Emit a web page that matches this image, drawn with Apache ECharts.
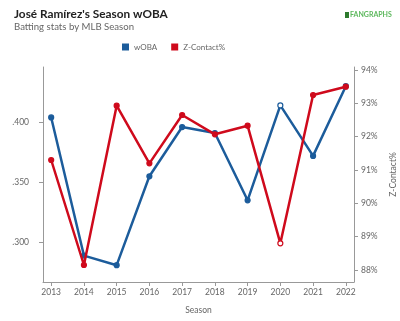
<!DOCTYPE html>
<html><head><meta charset="utf-8">
<script src="https://cdn.jsdelivr.net/npm/echarts@6/dist/echarts.min.js"></script>
<style>html,body{margin:0;padding:0;background:#fff}#c{width:400px;height:321px}</style>
</head><body><div id="c"></div>
<script>
var seasons = [2013, 2014, 2015, 2016, 2017, 2018, 2019, 2020, 2021, 2022];
var woba = [0.404, 0.289, 0.281, 0.355, 0.396, 0.391, 0.335, 0.414, 0.372, 0.430];
var zContact = [91.3, 88.15, 92.93, 91.2, 92.65, 92.07, 92.33, 88.8, 93.25, 93.5];
var wobaTicks = [0.300, 0.350, 0.400];
var zTicks = [88, 89, 90, 91, 92, 93, 94];
var hollowSeason = 2020;

var BLUE = '#1c5c9b', RED = '#cf0a1c';
function pts(vals, color) {
  return seasons.map(function (s, i) {
    var hollow = s === hollowSeason;
    return { value: [s, vals[i]], itemStyle: { color: hollow ? '#fff' : color, borderColor: color, borderWidth: 1.2 } };
  });
}
var chart = echarts.init(document.getElementById('c'), null, { renderer: 'canvas' });
var axisCommon = {
  axisLine: { show: true, lineStyle: { color: '#999', width: 1 } },
  axisTick: { show: true, length: 4, lineStyle: { color: '#999' } },
  splitLine: { show: false },
  axisLabel: { color: '#666', fontSize: 8.5, fontFamily: 'Lato' },
  nameTextStyle: { color: '#666', fontSize: 8.5, fontFamily: 'Lato' }
};
chart.setOption({
  animation: false,
  textStyle: { fontFamily: 'Lato' },
  title: [
    { text: 'José Ramírez\'s Season wOBA', left: 14, top: 8, padding: 0,
      textStyle: { fontSize: 11.8, fontWeight: 'bold', color: '#222', fontFamily: 'Lato' } },
    { text: 'Batting stats by MLB Season', left: 14, top: 22, padding: 0,
      textStyle: { fontSize: 9.6, fontWeight: 'normal', color: '#666', fontFamily: 'Lato' } }
  ],
  graphic: [
    { type: 'rect', left: 345, top: 12, shape: { width: 4, height: 6 }, style: { fill: '#2d7a2d' } },
    { type: 'text', left: 350, top: 11, style: { text: 'FANGRAPHS', fill: '#5cb85c', font: 'bold 7px Lato' } }
  ],
  legend: {
    top: 43, left: 122, itemWidth: 7, itemHeight: 7, itemGap: 14, padding: 0,
    icon: 'rect',
    textStyle: { color: '#666', fontSize: 8, fontFamily: 'Lato' },
    data: [{ name: 'wOBA', itemStyle: { color: BLUE } }, { name: 'Z-Contact%', itemStyle: { color: RED } }]
  },
  grid: { left: 43, right: 46, top: 67, bottom: 39, containLabel: false, outerBoundsMode: 'none' },
  xAxis: Object.assign({}, axisCommon, {
    type: 'value', min: 2012.75, max: 2022.25,
    name: 'Season', nameLocation: 'middle', nameGap: 24,
    axisLabel: Object.assign({}, axisCommon.axisLabel, { customValues: seasons, margin: 6,
      formatter: function (v) { return String(v); } }),
    axisTick: Object.assign({}, axisCommon.axisTick, { customValues: seasons })
  }),
  yAxis: [
    Object.assign({}, axisCommon, {
      type: 'value', position: 'left', min: 0.267, max: 0.446,
      name: 'wOBA', nameLocation: 'middle', nameGap: 31,
      axisLabel: Object.assign({}, axisCommon.axisLabel, { customValues: wobaTicks, margin: 14,
        formatter: function (v) { return v.toFixed(3).replace(/^0/, ''); } }),
      axisTick: Object.assign({}, axisCommon.axisTick, { customValues: wobaTicks })
    }),
    Object.assign({}, axisCommon, {
      type: 'value', position: 'right', min: 87.64, max: 94.09,
      name: 'Z-Contact%', nameLocation: 'middle', nameGap: 34,
      axisLabel: Object.assign({}, axisCommon.axisLabel, { customValues: zTicks, margin: 7,
        formatter: function (v) { return v + '%'; } }),
      axisTick: Object.assign({}, axisCommon.axisTick, { customValues: zTicks })
    })
  ],
  series: [
    { name: 'wOBA', type: 'line', yAxisIndex: 0, data: pts(woba, BLUE), color: BLUE,
      symbol: 'circle', symbolSize: 5, lineStyle: { width: 2.5, color: BLUE }, z: 2 },
    { name: 'Z-Contact%', type: 'line', yAxisIndex: 1, data: pts(zContact, RED), color: RED,
      symbol: 'circle', symbolSize: 5, lineStyle: { width: 2.5, color: RED }, z: 3 }
  ]
});
</script></body></html>
